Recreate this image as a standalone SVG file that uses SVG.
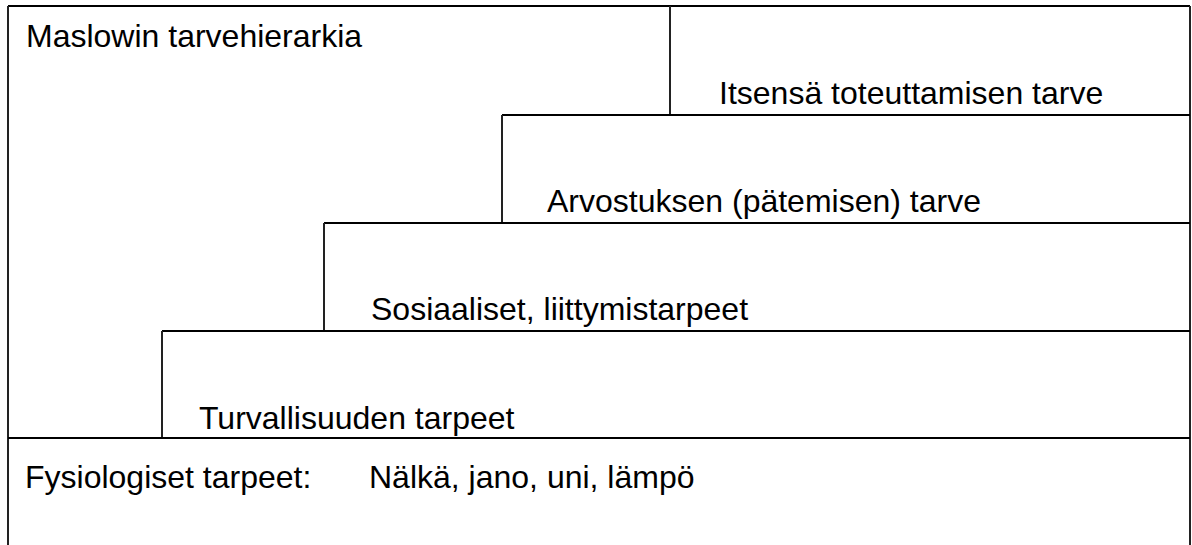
<svg xmlns="http://www.w3.org/2000/svg" width="1192" height="545" viewBox="0 0 1192 545">
  <style>
    .ln { stroke: #000; stroke-width: 2; fill: none; }
    .vl { stroke: #222; stroke-width: 2; fill: none; }
    .lbl { font-family: "Liberation Sans", Arial, sans-serif; font-size: 32px; fill: #000; }
  </style>
  <rect width="1192" height="545" fill="#fff"/>

  <!-- outer frame: top edge and both sides running off the bottom -->
  <g id="frame">
    <line class="ln" x1="8" y1="6" x2="1190" y2="6"/>
    <line class="vl" x1="8" y1="6" x2="8" y2="545"/>
    <line class="vl" x1="1190" y1="6" x2="1190" y2="545"/>
    <text class="lbl" x="26" y="47">Maslowin tarvehierarkia</text>
  </g>

  <!-- staircase of need levels, top to bottom -->
  <g id="level-self-actualisation">
    <line class="vl" x1="670" y1="6" x2="670" y2="115"/>
    <text class="lbl" x="719" y="104">Itsensä toteuttamisen tarve</text>
  </g>
  <g id="level-esteem">
    <line class="ln" x1="502" y1="115" x2="1190" y2="115"/>
    <line class="vl" x1="502" y1="115" x2="502" y2="223"/>
    <text class="lbl" x="547" y="212">Arvostuksen (pätemisen) tarve</text>
  </g>
  <g id="level-social">
    <line class="ln" x1="324" y1="223" x2="1190" y2="223"/>
    <line class="vl" x1="324" y1="223" x2="324" y2="331"/>
    <text class="lbl" x="371" y="320">Sosiaaliset, liittymistarpeet</text>
  </g>
  <g id="level-safety">
    <line class="ln" x1="162" y1="331" x2="1190" y2="331"/>
    <line class="vl" x1="162" y1="331" x2="162" y2="438"/>
    <text class="lbl" x="199" y="429">Turvallisuuden tarpeet</text>
  </g>
  <g id="level-physiological">
    <line class="ln" x1="8" y1="438" x2="1190" y2="438"/>
    <text class="lbl" x="25" y="488">Fysiologiset tarpeet:</text>
    <text class="lbl" x="369" y="488">Nälkä, jano, uni, lämpö</text>
  </g>

  <g id="connectors"/>
</svg>
